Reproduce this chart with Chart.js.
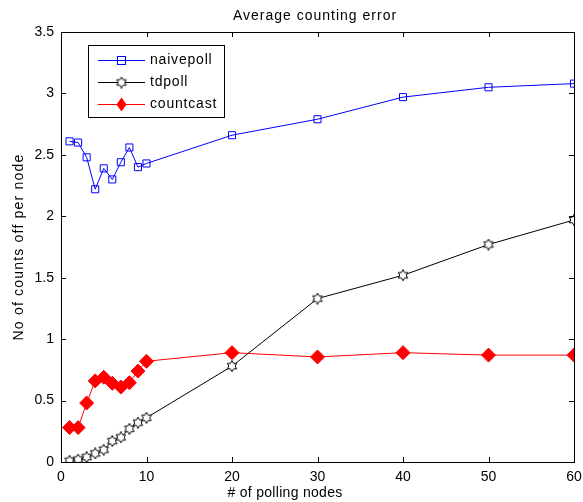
<!DOCTYPE html>
<html>
<head>
<meta charset="utf-8">
<script src="https://cdn.jsdelivr.net/npm/chart.js@4"></script>
<style>
  html, body { margin: 0; padding: 0; background: #fff; }
  #wrap { width: 583px; height: 502px; }
</style>
</head>
<body>
<div id="wrap"><canvas id="errChart" width="583" height="502"></canvas></div>
<script>
// data
var nodes = [1, 2, 3, 4, 5, 6, 7, 8, 9, 10, 20, 30, 40, 50, 60];
var naivepoll = [2.61, 2.60, 2.48, 2.22, 2.39, 2.30, 2.44, 2.56, 2.40, 2.43, 2.66, 2.79, 2.97, 3.05, 3.08];
var tdpoll = [0.01, 0.02, 0.04, 0.07, 0.10, 0.17, 0.20, 0.27, 0.32, 0.36, 0.78, 1.33, 1.52, 1.77, 1.97];
var countcast = [0.28, 0.28, 0.48, 0.66, 0.69, 0.64, 0.61, 0.645, 0.74, 0.82, 0.89, 0.855, 0.89, 0.87, 0.87];
var xTicks = [0, 10, 20, 30, 40, 50, 60];
var yTicks = [0, 0.5, 1, 1.5, 2, 2.5, 3, 3.5];

var FONT = "'Liberation Sans', Arial, sans-serif";

function toPoints(xs, ys) {
  var out = [];
  for (var i = 0; i < xs.length; i++) out.push({ x: xs[i], y: ys[i] });
  return out;
}

// hexagram marker (matlab 'h')
function makeHexagram(size) {
  var c = document.createElement("canvas");
  c.width = size; c.height = size;
  var g = c.getContext("2d");
  var cx = size / 2, cy = size / 2, r = size / 2 - 0.5, ri = r * 0.577;
  g.beginPath();
  for (var i = 0; i < 12; i++) {
    var a = -Math.PI / 2 + i * Math.PI / 6;
    var rr = (i % 2 === 0) ? r : ri;
    var px = cx + rr * Math.cos(a), py = cy + rr * Math.sin(a);
    if (i === 0) g.moveTo(px, py); else g.lineTo(px, py);
  }
  g.closePath();
  g.fillStyle = "#fff";
  g.fill();
  g.strokeStyle = "#000";
  g.lineWidth = 1;
  g.stroke();
  return c;
}
var hexMarker = makeHexagram(12);

function spacedText(ctx, text, x, y, size, spacing) {
  ctx.font = size + "px " + FONT;
  ctx.letterSpacing = spacing + "px";
  ctx.fillText(text, x, y);
  ctx.letterSpacing = "0px";
}

// box + inward ticks + title + axis labels
var matlabFrame = {
  id: "matlabFrame",
  afterDraw: function (chart) {
    var ctx = chart.ctx, a = chart.chartArea;
    var xs = chart.scales.x, ys = chart.scales.y;
    ctx.save();
    ctx.strokeStyle = "#000";
    ctx.lineWidth = 1;
    ctx.strokeRect(a.left + 0.5, a.top + 0.5, a.right - a.left, a.bottom - a.top);
    ctx.beginPath();
    var t = 5;
    xTicks.forEach(function (v) {
      var px = Math.round(xs.getPixelForValue(v)) + 0.5;
      ctx.moveTo(px, a.bottom); ctx.lineTo(px, a.bottom - t);
      ctx.moveTo(px, a.top); ctx.lineTo(px, a.top + t);
    });
    yTicks.forEach(function (v) {
      var py = Math.round(ys.getPixelForValue(v)) + 0.5;
      ctx.moveTo(a.left, py); ctx.lineTo(a.left + t, py);
      ctx.moveTo(a.right, py); ctx.lineTo(a.right - t, py);
    });
    ctx.stroke();

    ctx.fillStyle = "#000";
    ctx.textAlign = "center";
    ctx.textBaseline = "middle";
    spacedText(ctx, "Average counting error", 315, 16, 14, 1);
    spacedText(ctx, "# of polling nodes", 285, 493, 14, 0.3);

    ctx.translate(19, 247);
    ctx.rotate(-Math.PI / 2);
    spacedText(ctx, "No of counts off per node", 0, 0, 14, 1.2);
    ctx.restore();
  }
};

var matlabLegend = {
  id: "matlabLegend",
  afterDraw: function (chart) {
    var ctx = chart.ctx;
    var x0 = 88, y0 = 45, w = 136, h = 72;
    ctx.save();
    ctx.fillStyle = "#fff";
    ctx.fillRect(x0, y0, w, h);
    ctx.strokeStyle = "#000";
    ctx.lineWidth = 1;
    ctx.strokeRect(x0 + 0.5, y0 + 0.5, w, h);
    var rows = [60, 82, 104];
    var ds = chart.data.datasets;
    for (var i = 0; i < ds.length; i++) {
      var y = rows[i] + 0.5;
      ctx.strokeStyle = ds[i].borderColor;
      ctx.beginPath(); ctx.moveTo(98, y); ctx.lineTo(145, y); ctx.stroke();
      var cx = 121.5;
      if (i === 0) {
        ctx.strokeStyle = "#0000ff";
        ctx.strokeRect(cx - 4, y - 4, 8, 8);
      } else if (i === 1) {
        ctx.drawImage(hexMarker, cx - 6, y - 6);
      } else {
        ctx.fillStyle = "#ff0000";
        ctx.beginPath();
        ctx.moveTo(cx, y - 7); ctx.lineTo(cx + 5, y); ctx.lineTo(cx, y + 7); ctx.lineTo(cx - 5, y);
        ctx.closePath(); ctx.fill();
      }
      ctx.fillStyle = "#000";
      ctx.textAlign = "left";
      ctx.textBaseline = "middle";
      spacedText(ctx, ds[i].label, 150, y, 14, 0.8);
    }
    ctx.restore();
  }
};

var chart = new Chart(document.getElementById("errChart"), {
  type: "line",
  data: {
    datasets: [
      {
        label: "naivepoll",
        data: toPoints(nodes, naivepoll),
        borderColor: "#0000ff",
        borderWidth: 1,
        pointStyle: "rect",
        pointRadius: 5,
        pointBorderColor: "#0000ff",
        pointBackgroundColor: "rgba(0,0,0,0)",
        pointBorderWidth: 1,
        tension: 0
      },
      {
        label: "tdpoll",
        data: toPoints(nodes, tdpoll),
        borderColor: "#000",
        borderWidth: 1,
        pointStyle: hexMarker,
        tension: 0
      },
      {
        label: "countcast",
        data: toPoints(nodes, countcast),
        borderColor: "#ff0000",
        borderWidth: 1,
        pointStyle: "rectRot",
        pointRadius: 7,
        pointBorderColor: "#ff0000",
        pointBackgroundColor: "#ff0000",
        pointBorderWidth: 1,
        tension: 0
      }
    ]
  },
  options: {
    responsive: false,
    animation: false,
    layout: { padding: { top: 32, right: 9, left: 0, bottom: 0 } },
    plugins: {
      legend: { display: false },
      tooltip: { enabled: false }
    },
    scales: {
      x: {
        type: "linear",
        min: 0, max: 60,
        afterBuildTicks: function (s) { s.ticks = xTicks.map(function (v) { return { value: v }; }); },
        afterFit: function (s) { s.height = 40; s.paddingLeft = 0; s.paddingRight = 0; },
        grid: { display: false, drawTicks: false },
        border: { display: false },
        ticks: { color: "#000", font: { family: FONT, size: 14 }, padding: 7, maxRotation: 0 }
      },
      y: {
        min: 0, max: 3.5,
        afterBuildTicks: function (s) { s.ticks = yTicks.map(function (v) { return { value: v }; }); },
        afterFit: function (s) { s.width = 61; s.paddingTop = 0; s.paddingBottom = 0; },
        grid: { display: false, drawTicks: false },
        border: { display: false },
        ticks: {
          color: "#000", font: { family: FONT, size: 14 }, padding: 7,
          callback: function (v) { return String(v); }
        }
      }
    }
  },
  plugins: [matlabFrame, matlabLegend]
});
</script>
</body>
</html>
